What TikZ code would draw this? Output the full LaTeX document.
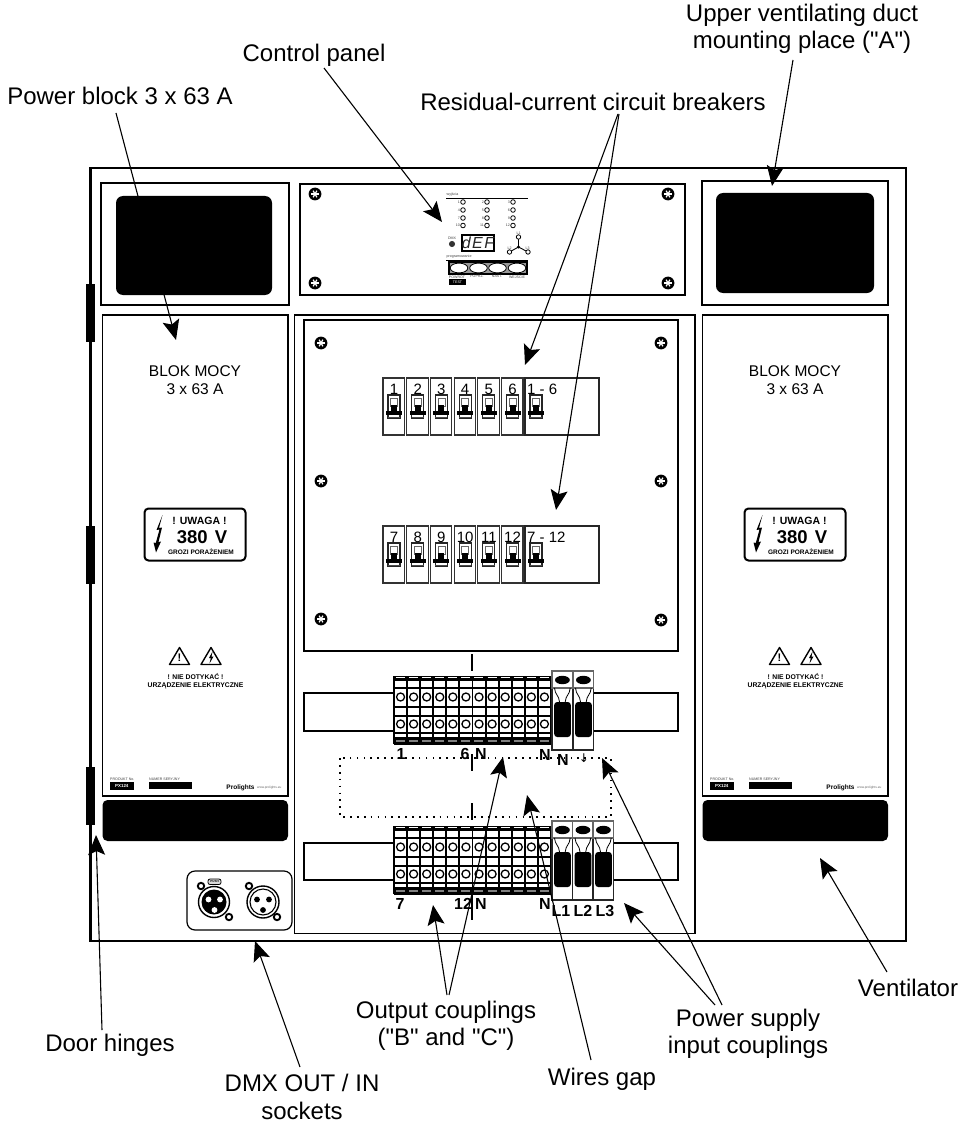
\documentclass[tikz,border=0pt]{standalone}
\usepackage{fontspec}
\setmainfont{Liberation Sans}
\newfontfamily\qf{Liberation Sans}
\usetikzlibrary{arrows.meta,calc}
\tikzset{
  x=1pt,y=-1pt,
  lbl/.style={inner sep=0pt,align=center,font=\qf\fontsize{24}{27.5}\selectfont},
  arr/.style={-{Stealth[length=20pt,width=17pt,inset=4pt]},line width=1.1pt},
  boxline/.style={draw,line width=1.6pt},
  tiny/.style={inner sep=0pt,font=\fontsize{3.6}{3.6}\selectfont,text=black!75},
  bold/.style={inner sep=0pt,font=\bfseries\fontsize{#1}{#1}\selectfont},
  plain/.style={inner sep=0pt,font=\fontsize{#1}{#1}\selectfont},
  screw/.pic={
    \fill (0,0) circle (6.4);
    \foreach \a in {0,60,120} \draw[white,line width=1.2pt] (\a:3.8) -- (\a+180:3.8);
  },
  led/.style={draw,line width=.8pt,fill=white},
  ring/.pic={\draw[line width=1.9pt,fill=white] (0,0) circle (3.2);},
  brkbox/.pic={\draw[line width=1.1pt,black!80] (0,0) rectangle (21.5,57);},
  brksw/.pic={
    \draw[line width=1.1pt,black!85] (5,17) rectangle (17,40);
    \draw[line width=.8pt,black!60] (7.5,20) rectangle (14.5,28);
    \fill (8,27) rectangle (14,33);
    \fill (3,33) rectangle (19,37);
    \draw[line width=.7pt,black!70] (5,39) -- (17,39);
  },
  feed/.pic={
    \draw[line width=1.1pt,black!85] (0,0) rectangle (20.7,79);
    \draw[line width=1.1pt,black!60] (0,0) rectangle (20.7,17);
    \fill (10.4,9) ellipse (7.4 and 4.2);
    \fill[rounded corners=3pt] (2.2,31) rectangle (18.8,66);
    \draw[line width=.8pt] (2.5,17) .. controls (3,24) and (7,24) .. (7.5,31);
    \draw[line width=.8pt] (18.2,17) .. controls (17.7,24) and (13.7,24) .. (13.2,31);
  },
  tblock/.pic={
    \fill[white] (0,0) rectangle (157,68);
    \foreach \i in {0,...,12} \draw[line width=1.9pt] (13.08*\i,0) -- (13.08*\i,68);
    \foreach \yy in {4,12,31,40,57,62} \draw[line width=1.6pt] (0,\yy) -- (157,\yy);
    \fill (0,-0.5) rectangle (157,4);
    \fill (0,62) rectangle (157,68.5);
    \foreach \i in {0,...,11} {
      \draw[white,line width=.9pt] (13.08*\i+2,1.8) -- (13.08*\i+11,1.8);
      \draw[black!50,line width=1.2pt] (13.08*\i+2,65) -- (13.08*\i+11,65);
      \draw[line width=1.3pt,fill=white] (13.08*\i+6.54,21) circle (4);
      \draw[line width=1.3pt,fill=white] (13.08*\i+6.54,48) circle (4);
    }
  },
}
\begin{document}
\begin{tikzpicture}
\useasboundingbox (0,0) rectangle (968,1123);
% housing
\draw[line width=2.8pt] (90.5,168) rectangle (906,941);
% hinges
\foreach \yy in {284,526,767} \fill (86,\yy) rectangle (95,\yy+58);
% power block housings
\draw[line width=2pt] (101,183) rectangle (289,305);
\fill[rounded corners=7pt] (116,196) rectangle (272,295);
\draw[line width=2pt] (702,181) rectangle (888,305);
\fill[rounded corners=7pt] (716,193) rectangle (874,293);
% control panel
\draw[boxline] (300,184) rectangle (685,295);
\foreach \sx/\sy in {315/194,668/194,315/283,668/283} \pic at (\sx,\sy) {screw};
\node[tiny,anchor=west] (cpout) at (446.5,195) {wyjścia};
\draw[line width=.8pt] (446,198) -- (528,198);
\foreach \cx/\ca/\cb/\cc/\cd in {463/1/4/7/10,487/2/5/8/11,513/3/6/9/12} {
  \foreach \cy/\t in {202/\ca,210/\cb,218/\cc,225.5/\cd} {
    \draw[led] (\cx,\cy) circle (2.3);
    \node[tiny,anchor=east] at (\cx-3,\cy) {\t};
  }
}
\node[tiny] (cpdmx) at (452,238) {DMX};
\draw[led,black!80] (452,244) circle (2.6);
\draw[line width=1.1pt] (462,235) rectangle (494,251);
\node[inner sep=0pt,font=\itshape\fontsize{16}{16}\selectfont,text=black!85] (cpdisp) at (478,243) {d\kern1.5pt E\kern1.5pt F};
\coordinate (starc) at (518.5,247);
\foreach \px/\py in {518.5/237,509.5/252,528/252} {
  \draw[line width=.9pt] (starc) -- (\px,\py);
  \draw[led] (\px,\py) circle (2.2);
}
\fill (starc) circle (1.6);
\node[tiny] at (518.5,233) {L1};
\node[tiny] at (509.5,248) {L2};
\node[tiny] at (527.5,248) {L3};
\node[tiny,anchor=west] (cpprog) at (446.5,257) {programowanie};
\draw[line width=.8pt] (446,260) -- (528,260);
\draw[line width=1.1pt,fill=black!40] (449,262) rectangle (527,274);
\foreach \bx in {459,478.5,497.5,517} \draw[line width=.8pt,fill=white] (\bx,268) ellipse (8.8 and 4.9);
\node[tiny] (cpb1) at (457,276.5) {POWRÓT};
\node[tiny] (cpb2) at (477,276.5) {POPRZ.};
\node[tiny] (cpb3) at (497,276.5) {NAST.};
\node[tiny] (cpb4) at (517,276.5) {WEJŚCIE};
\fill (449,279) rectangle (466,284.5);
\node[tiny,text=white] (cpt) at (457.5,281.8) {TEST};
% side panels
\foreach \dx in {0,600} {
\begin{scope}[shift={(\dx,0)}]
  \draw[line width=1.5pt] (102.5,315) rectangle (288,796);
  \fill[rounded corners=5pt] (102.5,800) rectangle (288,841);
  \node[plain=15.5] (blok\dx) at (195,371.5) {BLOK MOCY};
  \node[plain=15.5] (amp\dx) at (195,389) {3 x 63 A};
  \draw[line width=2pt,rounded corners=4pt] (144.5,508.5) rectangle (245.5,560.5);
  \fill (162.5,515) -- (156.5,530) -- (159.5,529.5) -- (155.8,543) -- (153.5,542.5) -- (156,552.5) -- (161,541.5) -- (158.5,542) -- (162,527.5) -- (159,528) -- cycle;
  \node[bold=10.5] (uw\dx) at (199.5,520.5) {! UWAGA !};
  \node[bold=18.5] (v\dx) at (202,537) {380\kern7pt V};
  \node[bold=6.5] (gr\dx) at (201,552) {GROZI PORAŻENIEM};
  \draw[line width=1.4pt,line join=round] (179.5,647.5) -- (169.5,664.5) -- (189.5,664.5) -- cycle;
  \node[bold=11] (ex\dx) at (179.5,658) {!};
  \draw[line width=1.4pt,line join=round] (211,647.5) -- (201,664.5) -- (221,664.5) -- cycle;
  \fill (212.5,651.5) -- (209,658) -- (210.8,658) -- (209.5,663.5) -- (213.5,656.5) -- (211.5,656.5) -- cycle;
  \node[bold=6.8] (nd\dx) at (195.5,677) {! NIE DOTYKAĆ !};
  \node[bold=6.8] (ur\dx) at (195.5,686) {URZĄDZENIE ELEKTRYCZNE};
  \node[tiny,anchor=west] (pn\dx) at (110,779) {PRODUKT No.};
  \fill (110,782) rectangle (133.5,790);
  \node[bold=4.4,text=white] (px\dx) at (121.8,786) {PX124};
  \node[tiny,anchor=west] (ns\dx) at (149,779) {NUMER SERYJNY};
  \fill (149,782) rectangle (192,789);
  \node[bold=6.5] (pl\dx) at (240.5,788) {Prolights};
  \node[inner sep=0pt,font=\fontsize{3.2}{3.2}\selectfont,anchor=west,text=black!60] (ww\dx) at (257,788) {www.prolights.eu};
\end{scope}
}
% DMX
\draw[line width=1.2pt,rounded corners=8pt] (187,871) rectangle (292,930);
\draw[line width=1.4pt] (214,902) circle (15.5);
\fill (214,902) circle (12.5);
\fill[white] (208.5,899.5) circle (2.9) (220,899.5) circle (2.9) (214.5,910) circle (2.9);
\draw[line width=.8pt,rounded corners=2pt,fill=black!15] (208,879) rectangle (221,884.5);
\node[bold=3] (push) at (214.5,881.7) {PUSH};
\pic at (201,886) {ring};
\pic at (229,917) {ring};
\draw[line width=1.4pt] (263,902) circle (16);
\draw[line width=1.1pt] (263,902) circle (13);
\fill (257,899.5) circle (2.9) (269,899.5) circle (2.9) (263,910) circle (2.9);
\pic at (249,886) {ring};
\pic at (277,917) {ring};
% central box
\draw[line width=1.2pt] (294.5,315) rectangle (695,933.5);
\draw[line width=1.6pt] (304,320) rectangle (678,651);
\foreach \sx/\sy in {321/343,661/343,321/481,661/481,321/619,661/620} \pic at (\sx,\sy) {screw};
% breakers
\foreach \row/\yy/\labs in {1/378/{1,2,3,4,5,6},2/526/{7,8,9,10,11,12}} {
  \foreach \t [count=\i from 0] in \labs {
    \pic at (383+23.7*\i,\yy) {brkbox};
    \pic at (383+23.7*\i,\yy) {brksw};
    \node[plain=15] (brk\row\i) at (394+23.7*\i,\yy+11.5) {\t};
  }
  \draw[line width=1.1pt,black!85] (525,\yy) rectangle (599,\yy+57);
  \pic at (525,\yy) {brksw};
}
\node[plain=15,anchor=west] (all1) at (527,389) {1 - 6};
\node[plain=15,anchor=west] (all2) at (527,537) {7 - 12};
% rails
\draw[line width=1.1pt] (304,693) rectangle (678,731);
\draw[line width=1.1pt] (304,843) rectangle (678,880);
% ticks
\foreach \ya/\yb in {654/671,754/771,803/820,895/920} \draw[line width=1.2pt] (472,\ya) -- (472,\yb);
% wires gap
\draw[dash pattern=on 1.7pt off 5.2pt,line width=1.2pt] (340,758) rectangle (611,817);
% terminal blocks
\pic at (394,676) {tblock};
\pic at (394,826) {tblock};
\fill[white] (552,671) rectangle (594,750);
\pic at (552,671) {feed};
\pic at (573,671) {feed};
\fill[white] (552,821) rectangle (614,900);
\pic at (552,821) {feed};
\pic at (572.5,821) {feed};
\pic at (593,821) {feed};
% terminal labels
\node[bold=16] (t1) at (401,754) {1};
\node[bold=16] (t6) at (465,754) {6};
\node[bold=16] (tn1) at (481,754) {N};
\node[bold=16] (tn2) at (545,755) {N};
\node[bold=16] (tn3) at (563,760) {N};
\node[inner sep=0pt,font={\fontspec{DejaVu Sans}\fontsize{12}{12}\selectfont}] (tg) at (584,758) {↓};
\node[bold=16] (t7) at (400,904) {7};
\node[bold=16] (t12) at (463,904) {12};
\node[bold=16] (tn4) at (481,904) {N};
\node[bold=16] (tn5) at (545,904) {N};
\node[bold=16] (l1) at (561,911) {L1};
\node[bold=16] (l2) at (583,911) {L2};
\node[bold=16] (l3) at (605,911) {L3};
% labels
\node[lbl] (power) at (120,96) {Power block 3 x 63 A};
\node[lbl] (control) at (314,55) {Control panel};
\node[lbl] (rccb) at (593,102) {Residual-current circuit breakers};
\node[lbl] (upper) at (802,29) {Upper ventilating duct\\mounting place ("A")};
\node[lbl] (output) at (446,1026) {Output couplings\\("B" and "C")};
\node[lbl] (psu) at (748,1034) {Power supply\\input couplings};
\node[lbl] (vent) at (908,988) {Ventilator};
\node[lbl] (hinge) at (110,1045) {Door hinges};
\node[lbl] (dmx) at (302,1097) {DMX OUT / IN\\sockets};
\node[lbl] (gap) at (602,1079) {Wires gap};
% arrow tips
\coordinate (tipPower) at (176,340);
\coordinate (tipControl) at (442,222);
\coordinate (tipR1) at (525,365);
\coordinate (tipR2) at (556,510);
\coordinate (tipUpper) at (772,186);
\coordinate (tipVent) at (820,858);
\coordinate (tipS1) at (602,758);
\coordinate (tipS2) at (624,903);
\coordinate (tipGap) at (527,795);
\coordinate (tipO1) at (503,757);
\coordinate (tipO2) at (433,905);
\coordinate (tipHinge) at (96,835);
\coordinate (tipDmx) at (255,941);
\draw[arr] ([shift={(-4,17)}]power.center) -- (tipPower);
\draw[arr] ([shift={(10,13)}]control.center) -- (tipControl);
\draw[arr] ([shift={(25,12)}]rccb.center) -- (tipR1);
\draw[arr] ([shift={(26,12)}]rccb.center) -- (tipR2);
\draw[arr] ([shift={(-9,31)}]upper.center) -- (tipUpper);
\draw[arr] ([shift={(-21,-16)}]vent.center) -- (tipVent);
\draw[arr] ([shift={(-26,-29)}]psu.center) -- (tipS1);
\draw[arr] ([shift={(-33,-29)}]psu.center) -- (tipS2);
\draw[arr] ([shift={(-11,-19)}]gap.center) -- (tipGap);
\draw[arr] ([shift={(3,-31)}]output.center) -- (tipO1);
\draw[arr] ([shift={(1,-31)}]output.center) -- (tipO2);
\draw[arr] ([shift={(-8,-15)}]hinge.center) -- (tipHinge);
\draw[arr] ([shift={(-2,-30)}]dmx.center) -- (tipDmx);
\end{tikzpicture}
\end{document}
